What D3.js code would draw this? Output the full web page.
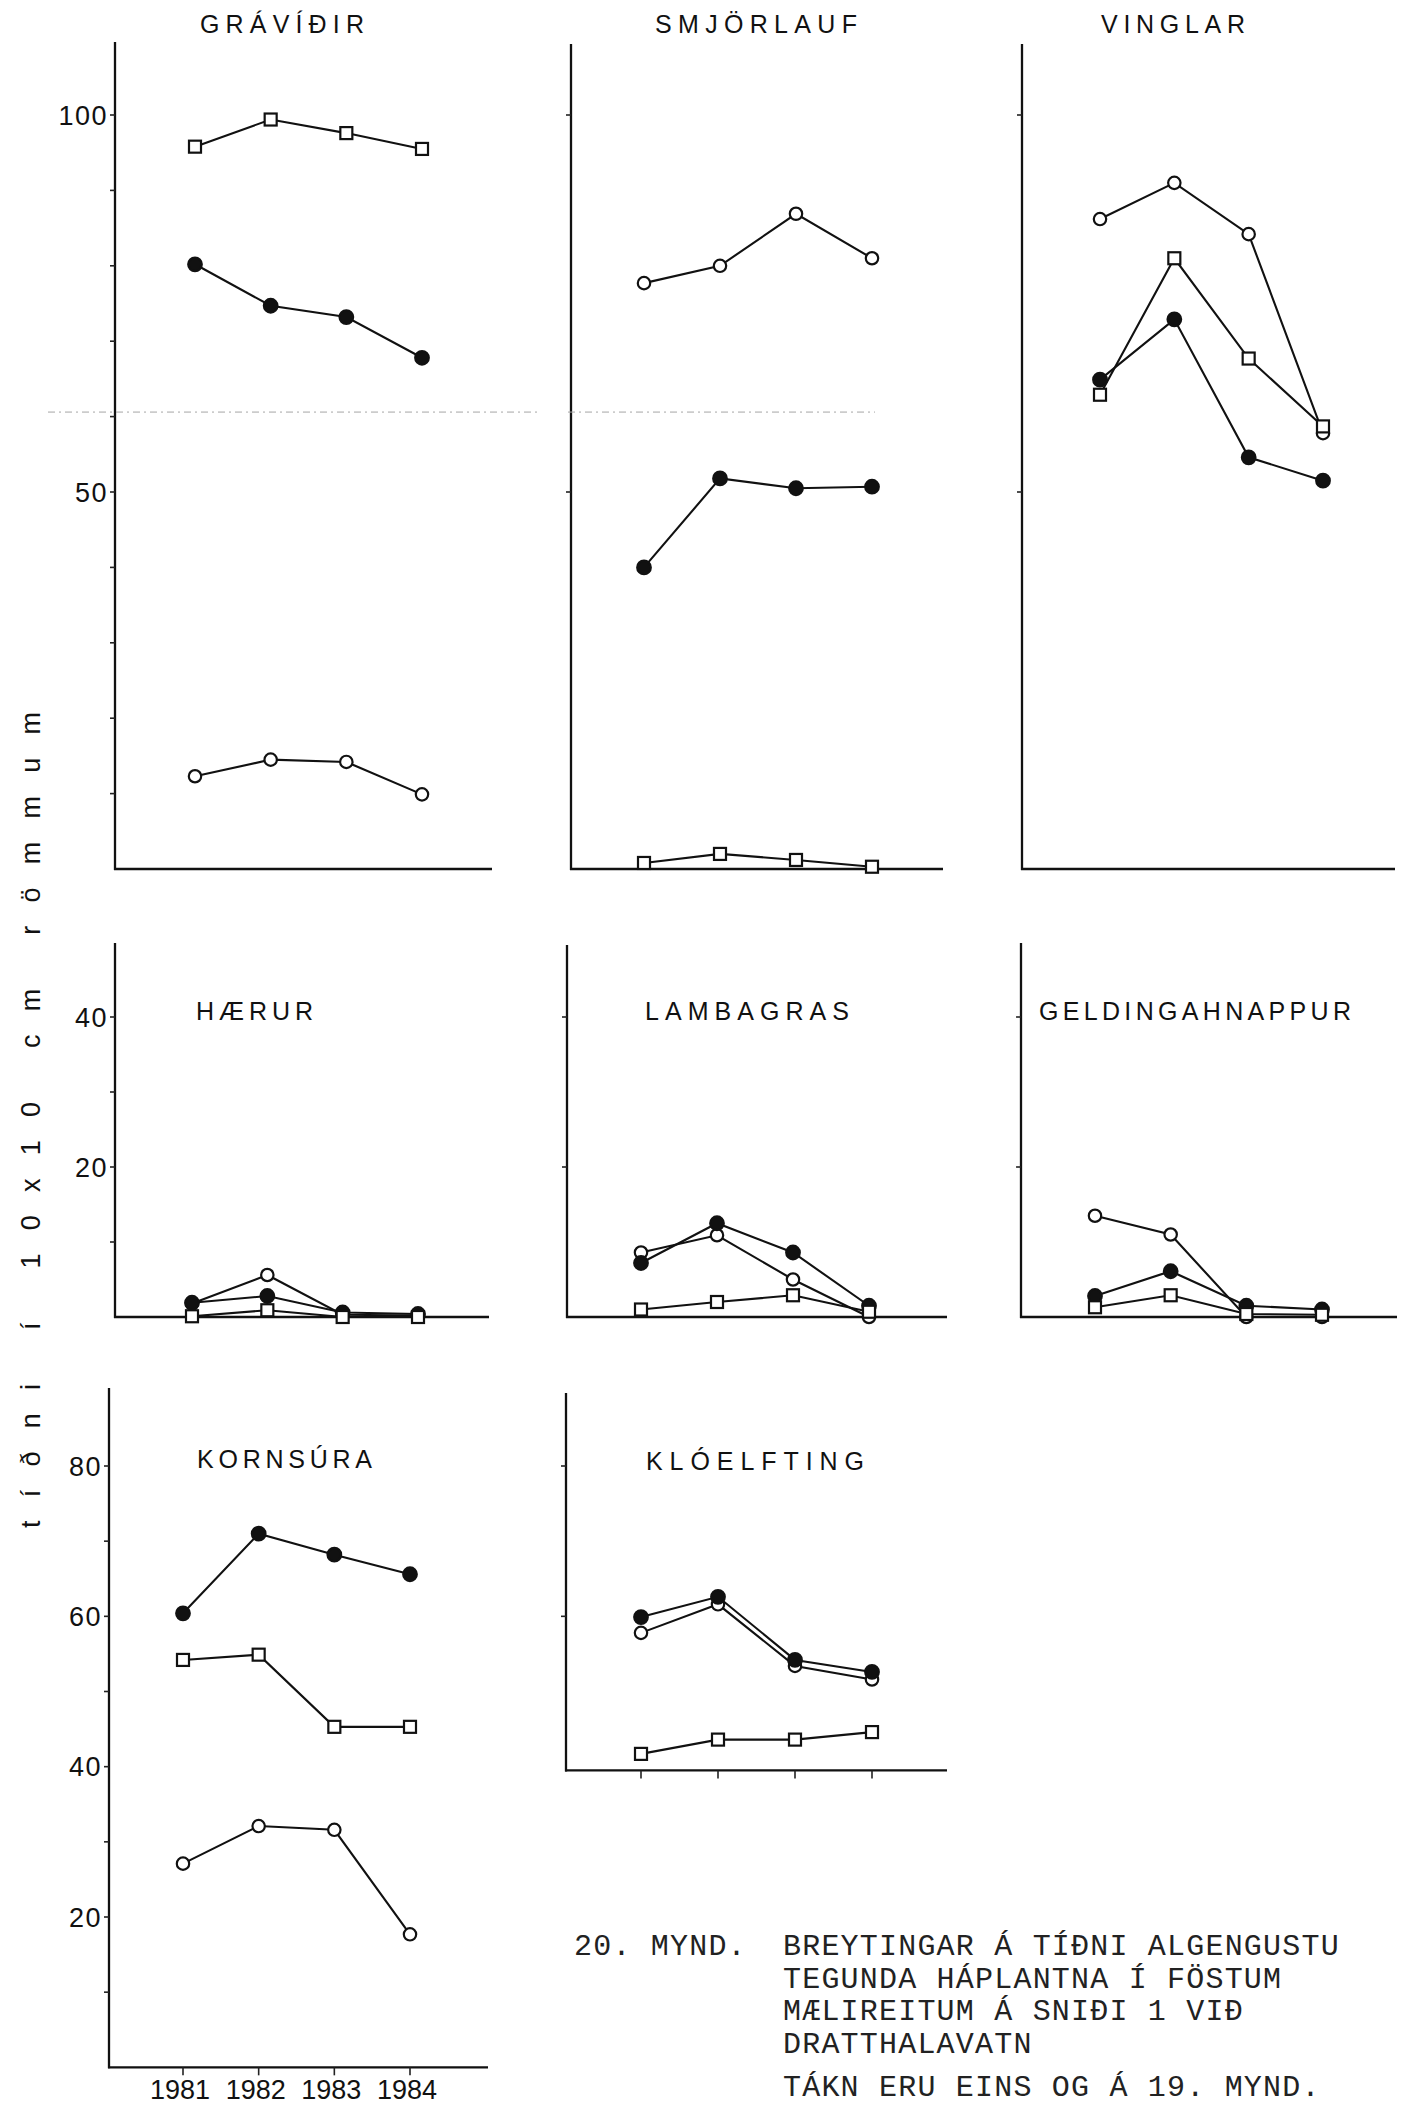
<!DOCTYPE html>
<html>
<head>
<meta charset="utf-8">
<script src="https://cdn.jsdelivr.net/npm/d3@7"></script>
<style>
  body { margin: 0; background: #fff; }
  svg { display: block; }
</style>
</head>
<body>
<svg id="fig" width="1404" height="2108"></svg>
<script>
var years = [1981, 1982, 1983, 1984]
var yearLabels = ["1981", "1982", "1983", "1984"]

// filled circle, open circle, square
var gravidirFilled = [80.2, 74.7, 73.2, 67.8]
var gravidirOpen   = [12.3, 14.5, 14.2, 9.9]
var gravidirSquare = [95.8, 99.4, 97.6, 95.5]

var smjorlaufFilled = [40.0, 51.8, 50.5, 50.7]
var smjorlaufOpen   = [77.7, 80.0, 86.9, 81.0]
var smjorlaufSquare = [0.8, 2.0, 1.2, 0.3]

var vinglarFilled = [64.9, 72.9, 54.6, 51.5]
var vinglarOpen   = [86.2, 91.0, 84.2, 57.8]
var vinglarSquare = [62.9, 81.0, 67.7, 58.7]

var haerurFilled = [1.9, 2.8, 0.6, 0.4]
var haerurOpen   = [1.8, 5.6, 0.3, 0.2]
var haerurSquare = [0.1, 0.9, 0.0, 0.0]

var lambagrasFilled = [7.2, 12.5, 8.6, 1.5]
var lambagrasOpen   = [8.6, 10.9, 5.0, 0.0]
var lambagrasSquare = [1.0, 2.0, 2.9, 0.7]

var geldingFilled = [2.8, 6.1, 1.5, 1.0]
var geldingOpen   = [13.5, 11.0, 0.0, 0.0]
var geldingSquare = [1.3, 2.9, 0.4, 0.3]

var kornsuraFilled = [60.4, 71.0, 68.2, 65.6]
var kornsuraOpen   = [27.1, 32.1, 31.6, 17.7]
var kornsuraSquare = [54.2, 54.9, 45.3, 45.3]

var kloelftingFilled = [59.9, 62.6, 54.2, 52.6]
var kloelftingOpen   = [57.8, 61.6, 53.4, 51.6]
var kloelftingSquare = [41.7, 43.6, 43.6, 44.6]

var topTicks = [10, 20, 30, 40, 50, 60, 70, 80, 90, 100]
var topLabels = [100, 50]
var midTicks = [10, 20, 30, 40]
var midLabels = [40, 20]
var botTicks = [10, 20, 30, 40, 50, 60, 70, 80]
var botLabels = [80, 60, 40, 20]

var yLabelText = "t í ð n i   í   1 0 x 1 0   c m   r ö m m u m"
var captionHead = "20. MYND."
var captionLines = [
  "BREYTINGAR Á TÍÐNI ALGENGUSTU",
  "TEGUNDA HÁPLANTNA Í FÖSTUM",
  "MÆLIREITUM Á SNIÐI 1 VIÐ",
  "DRATTHALAVATN"
]
var captionNote = "TÁKN ERU EINS OG Á 19. MYND."

var sans = "'Liberation Sans', Arial, Helvetica, sans-serif"
var mono = "'Liberation Mono', 'DejaVu Sans Mono', monospace"

var svg = d3.select("#fig")

// one y scale per row of panels
var yTop = d3.scaleLinear().domain([0, 100]).range([869, 115])
var yMid = d3.scaleLinear().domain([0, 40]).range([1317, 1017])
var yBot = d3.scaleLinear().domain([20, 80]).range([1917, 1466])

var panels = [
  { title: "GRÁVÍÐIR", tx: [200, 364], ty: 33, y: yTop, ax: 115, axEnd: 492, px: [195, 422], top: 42, base: 0,
    ticks: topTicks, labels: topLabels, filled: gravidirFilled, open: gravidirOpen, square: gravidirSquare },
  { title: "SMJÖRLAUF", tx: [655, 857], ty: 33, y: yTop, ax: 571, axEnd: 943, px: [644, 872], top: 44, base: 0,
    ticks: topLabels, labels: [], filled: smjorlaufFilled, open: smjorlaufOpen, square: smjorlaufSquare },
  { title: "VINGLAR", tx: [1101, 1245], ty: 33, y: yTop, ax: 1022, axEnd: 1395, px: [1100, 1323], top: 44, base: 0,
    ticks: topLabels, labels: [], filled: vinglarFilled, open: vinglarOpen, square: vinglarSquare },
  { title: "HÆRUR", tx: [196, 313], ty: 1020, y: yMid, ax: 115, axEnd: 489, px: [192, 418], top: 943, base: 0,
    ticks: midTicks, labels: midLabels, filled: haerurFilled, open: haerurOpen, square: haerurSquare },
  { title: "LAMBAGRAS", tx: [645, 849], ty: 1020, y: yMid, ax: 567, axEnd: 947, px: [641, 869], top: 945, base: 0,
    ticks: midLabels, labels: [], filled: lambagrasFilled, open: lambagrasOpen, square: lambagrasSquare },
  { title: "GELDINGAHNAPPUR", tx: [1039, 1351], ty: 1020, y: yMid, ax: 1021, axEnd: 1397, px: [1095, 1322], top: 943, base: 0,
    ticks: midLabels, labels: [], filled: geldingFilled, open: geldingOpen, square: geldingSquare },
  { title: "KORNSÚRA", tx: [197, 372], ty: 1468, y: yBot, ax: 109, axEnd: 488, px: [183, 410], top: 1388, base: 0,
    ticks: botTicks, labels: botLabels, years: true, filled: kornsuraFilled, open: kornsuraOpen, square: kornsuraSquare },
  { title: "KLÓELFTING", tx: [646, 864], ty: 1470, y: yBot, ax: 566, axEnd: 947, px: [641, 872], top: 1393, base: 39.5,
    ticks: [60, 80], labels: [], yearTicks: true, filled: kloelftingFilled, open: kloelftingOpen, square: kloelftingSquare }
]

function drawPanel(p) {
  var g = svg.append("g").attr("class", "panel")
  var x = d3.scalePoint().domain(years).range(p.px)
  var y = p.y
  var baseY = y(p.base)

  // axes
  g.append("line")
    .attr("x1", p.ax).attr("x2", p.ax)
    .attr("y1", p.top).attr("y2", baseY + 1)
    .attr("stroke", "#111").attr("stroke-width", 2.3)
  g.append("line")
    .attr("x1", p.ax - 1).attr("x2", p.axEnd)
    .attr("y1", baseY).attr("y2", baseY)
    .attr("stroke", "#111").attr("stroke-width", 2.3)

  g.selectAll("line.ytick")
    .data(p.ticks)
    .enter().append("line")
      .attr("class", "ytick")
      .attr("x1", p.ax - 5).attr("x2", p.ax)
      .attr("y1", d => y(d)).attr("y2", d => y(d))
      .attr("stroke", "#222").attr("stroke-width", 1.6)

  g.selectAll("text.ylab")
    .data(p.labels)
    .enter().append("text")
      .attr("class", "ylab")
      .attr("x", p.ax - 7)
      .attr("y", d => y(d))
      .attr("dy", "0.36em")
      .attr("text-anchor", "end")
      .attr("font-family", sans)
      .attr("font-size", 27)
      .attr("letter-spacing", 1.5)
      .attr("fill", "#111")
      .text(d => d)

  if (p.years || p.yearTicks) {
    g.selectAll("line.xtick")
      .data(years)
      .enter().append("line")
        .attr("class", "xtick")
        .attr("x1", d => x(d)).attr("x2", d => x(d))
        .attr("y1", baseY).attr("y2", baseY + 8)
        .attr("stroke", "#222").attr("stroke-width", 1.6)
  }
  if (p.years) {
    g.selectAll("text.xlab")
      .data(years)
      .enter().append("text")
        .attr("class", "xlab")
        .attr("x", (d, i) => x(d) - 3)
        .attr("y", 2099)
        .attr("text-anchor", "middle")
        .attr("font-family", sans)
        .attr("font-size", 27)
        .attr("fill", "#111")
        .text((d, i) => yearLabels[i])
  }

  // title
  g.append("text")
    .attr("x", p.tx[0]).attr("y", p.ty)
    .attr("textLength", p.tx[1] - p.tx[0])
    .attr("lengthAdjust", "spacing")
    .attr("font-family", sans)
    .attr("font-size", 25)
    .attr("fill", "#111")
    .text(p.title)

  var line = d3.line()
    .x((d, i) => x(years[i]))
    .y(d => y(d))

  var series = [
    { kind: "open", values: p.open },
    { kind: "filled", values: p.filled },
    { kind: "square", values: p.square }
  ]

  series.forEach(s => {
    g.append("path")
      .datum(s.values)
      .attr("fill", "none")
      .attr("stroke", "#111")
      .attr("stroke-width", 2.1)
      .attr("d", line)
  })

  series.forEach(s => {
    var pts = s.values.map((v, i) => ({ x: x(years[i]), y: y(v) }))
    if (s.kind == "square") {
      g.selectAll(null)
        .data(pts)
        .enter().append("rect")
          .attr("x", d => d.x - 6).attr("y", d => d.y - 6)
          .attr("width", 12).attr("height", 12)
          .attr("fill", "#fff").attr("stroke", "#111").attr("stroke-width", 2.2)
    } else {
      g.selectAll(null)
        .data(pts)
        .enter().append("circle")
          .attr("cx", d => d.x).attr("cy", d => d.y)
          .attr("r", s.kind == "filled" ? 6.8 : 6.2)
          .attr("fill", s.kind == "filled" ? "#111" : "#fff")
          .attr("stroke", "#111").attr("stroke-width", 2.2)
    }
  })
}

panels.forEach(drawPanel)

// faint dotted guide across the top row (visible in the scan)
svg.selectAll("line.guide")
  .data([[48, 540], [568, 875]])
  .enter().append("line")
    .attr("class", "guide")
    .attr("x1", d => d[0]).attr("x2", d => d[1])
    .attr("y1", yTop(60.6)).attr("y2", yTop(60.6))
    .attr("stroke", "#a5a5a5").attr("stroke-width", 1)
    .attr("stroke-dasharray", "7 4 2 4")

// rotated y label
svg.append("text")
  .attr("transform", "translate(40,1120) rotate(-90)")
  .attr("text-anchor", "middle")
  .attr("textLength", 816)
  .attr("lengthAdjust", "spacing")
  .attr("font-family", sans)
  .attr("font-size", 27)
  .attr("fill", "#111")
  .style("white-space", "pre")
  .text(yLabelText)

// caption
var cap = svg.append("g")
  .attr("font-family", mono)
  .attr("font-size", 30)
  .attr("letter-spacing", 1.2)
  .attr("fill", "#222")

cap.append("text").attr("x", 574).attr("y", 1955).text(captionHead)
cap.selectAll("text.cl")
  .data(captionLines)
  .enter().append("text")
    .attr("class", "cl")
    .attr("x", 783)
    .attr("y", (d, i) => 1955 + i * 32.5)
    .text(d => d)
cap.append("text").attr("x", 783).attr("y", 2096).text(captionNote)
</script>
</body>
</html>
